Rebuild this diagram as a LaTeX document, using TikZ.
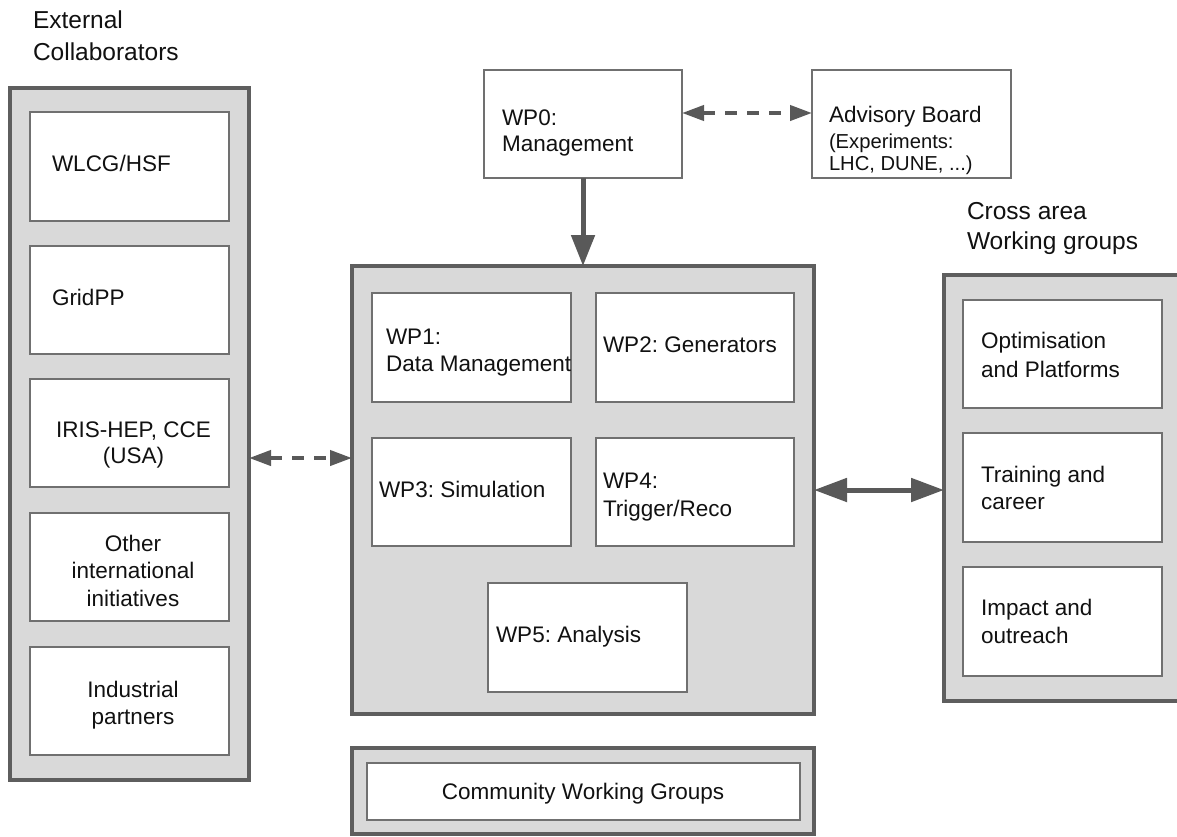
\documentclass[tikz,border=0pt]{standalone}
\usepackage{fontspec}
\setmainfont{Liberation Sans}
\frenchspacing
\usetikzlibrary{arrows.meta,fit}
\definecolor{cfill}{HTML}{D9D9D9}
\definecolor{cedge}{HTML}{5E5E5E}
\definecolor{bedge}{HTML}{707070}
\definecolor{arr}{HTML}{595959}
\definecolor{ink}{HTML}{111111}
\begin{document}
\begin{tikzpicture}[x=1pt,y=-1pt,
  container/.style={draw=cedge, fill=cfill, line width=4pt, inner sep=0pt, outer sep=0pt},
  ibox/.style={draw=bedge, fill=white, line width=2pt, inner sep=0pt, outer sep=0pt},
  txt/.style={inner sep=0pt, outer sep=0pt, text=ink, font=\fontsize{22.5}{27}\selectfont},
  lt/.style={txt, anchor=base west},
  ct/.style={txt, anchor=base},
  big/.style={lt, font=\fontsize{24.5}{30}\selectfont},
  small/.style={lt, font=\fontsize{20.2}{24}\selectfont},
  solidarrow/.style={draw=arr, line width=5pt, -{Triangle[length=31pt,width=23pt]}},
  twoway/.style={draw=arr, line width=5pt, {Triangle[length=33pt,width=23pt]}-{Triangle[length=33pt,width=23pt]}},
  dasharrow/.style={draw=arr, line width=4pt, dash pattern=on 12pt off 10pt, {Triangle[length=22pt,width=15pt]}-{Triangle[length=22pt,width=15pt]}}
]
\useasboundingbox[fill=white] (0,0) rectangle (1177,836);

% containers
\node[container, fit={(10,88) (249,780)}] (ext) {};
\node[container, fit={(352,266) (814,714)}] (main) {};
\node[container, fit={(944,275) (1195,701)}] (cross) {};
\node[container, fit={(352,748) (814,834)}] (comm) {};

% inner boxes
\node[ibox, fit={(30,112) (229,221)}] (wlcg) {};
\node[ibox, fit={(30,246) (229,354)}] (gridpp) {};
\node[ibox, fit={(30,379) (229,487)}] (iris) {};
\node[ibox, fit={(30,513) (229,621)}] (other) {};
\node[ibox, fit={(30,647) (229,755)}] (indus) {};
\node[ibox, fit={(484,70) (682,178)}] (wp0) {};
\node[ibox, fit={(812,70) (1011,178)}] (adv) {};
\node[ibox, fit={(372,293) (571,402)}] (wp1) {};
\node[ibox, fit={(596,293) (794,402)}] (wp2) {};
\node[ibox, fit={(372,438) (571,546)}] (wp3) {};
\node[ibox, fit={(596,438) (794,546)}] (wp4) {};
\node[ibox, fit={(488,583) (687,692)}] (wp5) {};
\node[ibox, fit={(963,300) (1162,408)}] (opt) {};
\node[ibox, fit={(963,433) (1162,542)}] (train) {};
\node[ibox, fit={(963,567) (1162,676)}] (impact) {};
\node[ibox, fit={(367,763) (800,820)}] (cwg) {};

% headings
\node[big] (h-ext1) at (33,28) {External};
\node[big] (h-ext2) at (33,60) {Collaborators};
\node[big] (h-cr1) at (967,219) {Cross area};
\node[big] (h-cr2) at (967,249) {Working groups};

% texts
\node[lt] (t-wlcg) at (52,171) {WLCG/HSF};
\node[lt] (t-grid) at (52,305) {GridPP};
\node[ct] (t-iris1) at (133.5,437) {IRIS-HEP, CCE};
\node[ct] (t-iris2) at (133.5,463) {(USA)};
\node[ct] (t-oth1) at (133,551) {Other};
\node[ct] (t-oth2) at (133,578) {international};
\node[ct] (t-oth3) at (133,606) {initiatives};
\node[ct] (t-ind1) at (133,697) {Industrial};
\node[ct] (t-ind2) at (133,724) {partners};
\node[lt] (t-wp0a) at (502,125) {WP0:};
\node[lt] (t-wp0b) at (502,151) {Management};
\node[lt] (t-adv1) at (829,122) {Advisory Board};
\node[small] (t-adv2) at (829,148) {(Experiments:};
\node[small] (t-adv3) at (829,170) {LHC, DUNE, ...)};
\node[lt] (t-wp1a) at (386,344) {WP1:};
\node[lt] (t-wp1b) at (386,371) {Data Management};
\node[lt] (t-wp2) at (603,352) {WP2: Generators};
\node[lt] (t-wp3) at (379,497) {WP3: Simulation};
\node[lt] (t-wp4a) at (603,488) {WP4:};
\node[lt] (t-wp4b) at (603,516) {Trigger/Reco};
\node[lt] (t-wp5) at (496,642) {WP5: Analysis};
\node[lt] (t-opt1) at (981,348) {Optimisation};
\node[lt] (t-opt2) at (981,377) {and Platforms};
\node[lt] (t-tr1) at (981,482) {Training and};
\node[lt] (t-tr2) at (981,509) {career};
\node[lt] (t-im1) at (981,615) {Impact and};
\node[lt] (t-im2) at (981,643) {outreach};
\node[ct] (t-cwg) at (583,799) {Community Working Groups};

% connectors
\draw[solidarrow] (wp0.south) -- (main.north);
\draw[dasharrow] ([yshift=11pt]wp0.east) -- ([yshift=11pt]adv.west);
\draw[dasharrow] ([yshift=-24pt]ext.east) -- ([yshift=32pt]main.west);
\draw[twoway] (main.east) -- (main.east -| cross.west);
\end{tikzpicture}
\end{document}
